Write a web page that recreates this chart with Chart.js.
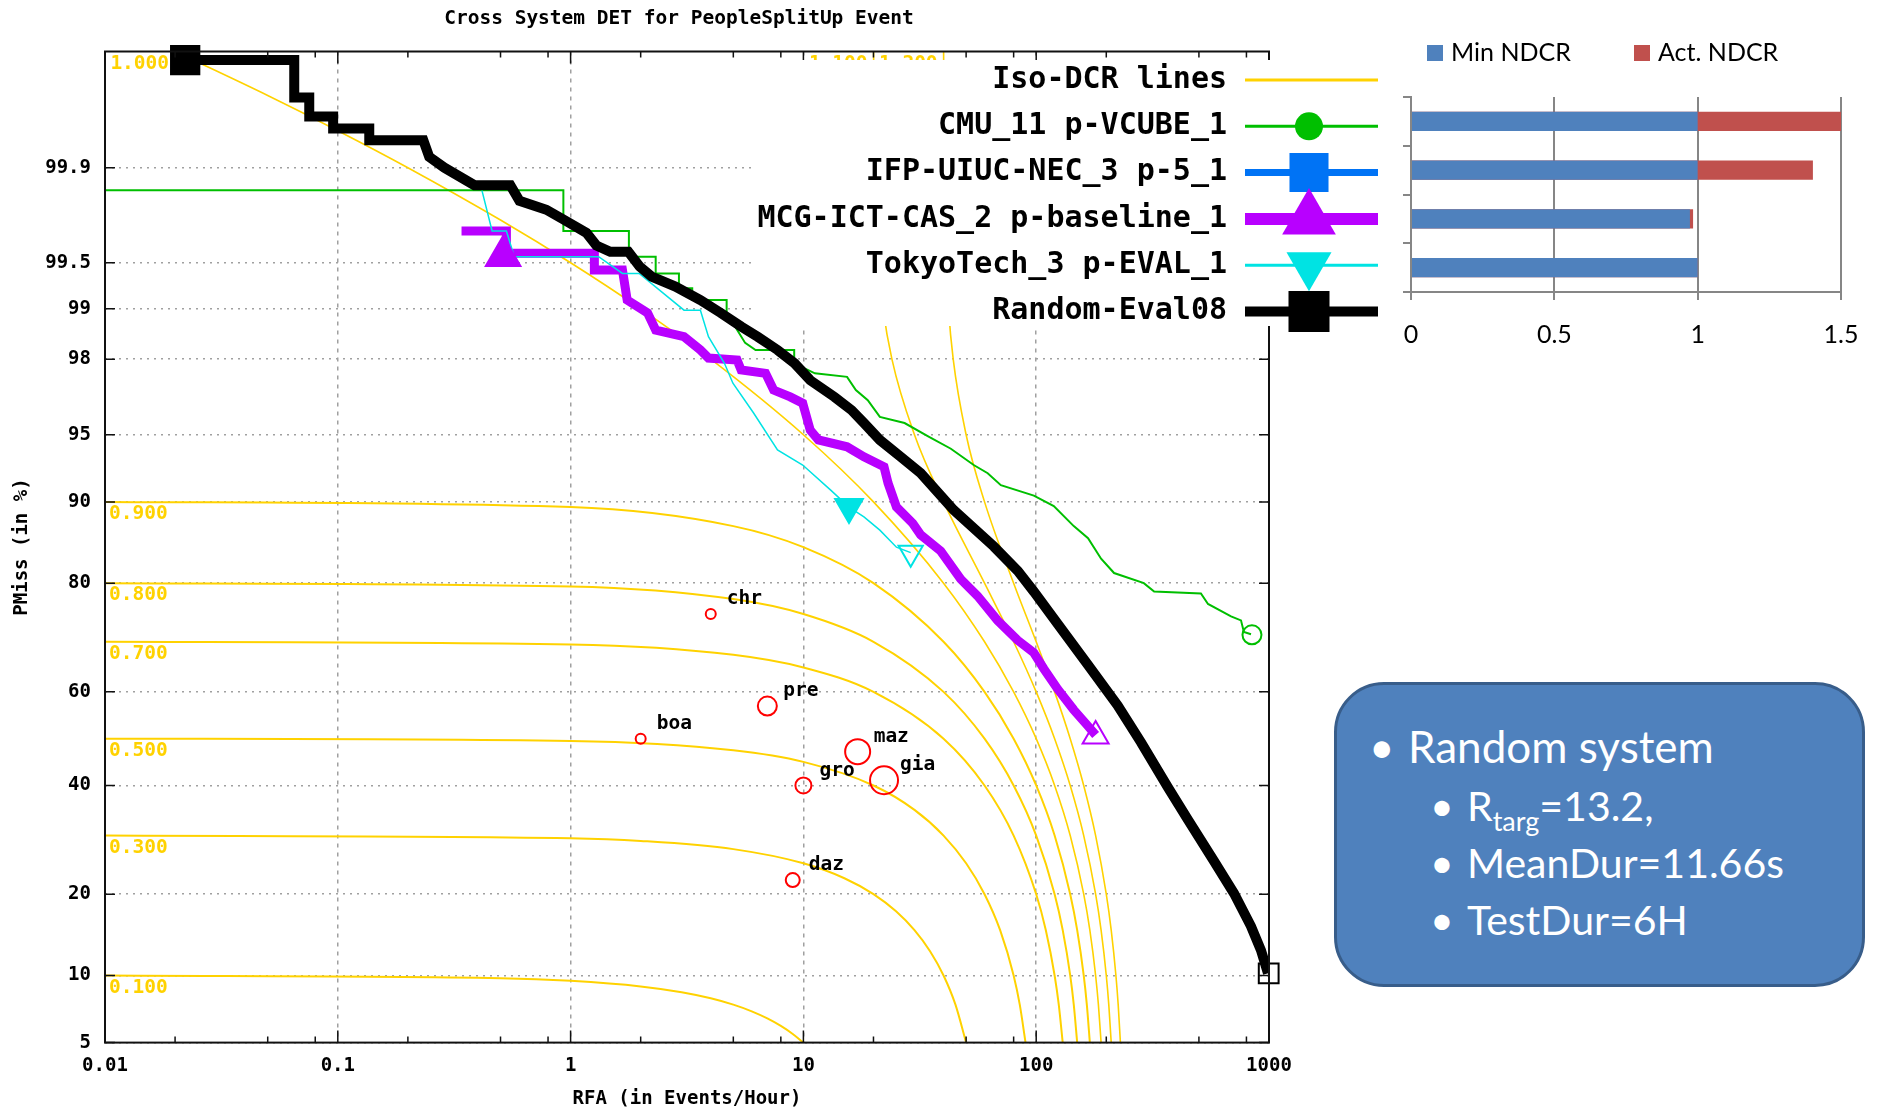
<!DOCTYPE html>
<html>
<head>
<meta charset="utf-8">
<script src="https://cdn.jsdelivr.net/npm/chart.js@4.4.1/dist/chart.umd.min.js"></script>
<style>
  html, body { margin: 0; padding: 0; background: #fff; }
  body { width: 1877px; height: 1110px; position: relative; overflow: hidden; }
  #det { position: absolute; left: 0; top: 0; }
  #ndcr { position: absolute; left: 1395px; top: 0; }
  #note { position: absolute; left: 1334px; top: 682px; width: 531px; height: 305px; box-sizing: border-box;
          background: #4f81bd; border: 3px solid #385d8a; border-radius: 50px; }
  .ln { position: absolute; color: #fff; font-family: Lato, sans-serif; white-space: nowrap; line-height: 1.2; }
  .l1 { font-size: 44px; }
  .l2 { font-size: 41px; }
  .sub { font-size: 27px; vertical-align: -10px; }
</style>
</head>
<body>
<canvas id="det" width="1395" height="1110"></canvas>
<canvas id="ndcr" width="482" height="360"></canvas>
<div id="note"></div>
<div class="ln l1" style="left:1369px; top:720px">&bull;</div>
<div class="ln l1" style="left:1408px; top:720px">Random system</div>
<div class="ln l2" style="left:1430px; top:781px">&bull;</div>
<div class="ln l2" style="left:1467px; top:781px">R<span class="sub">targ</span>=13.2,</div>
<div class="ln l2" style="left:1430px; top:838px">&bull;</div>
<div class="ln l2" style="left:1467px; top:838px">MeanDur=11.66s</div>
<div class="ln l2" style="left:1430px; top:895px">&bull;</div>
<div class="ln l2" style="left:1467px; top:895px">TestDur=6H</div>
<script>
// ---- DET data (RFA in events/hour, PMiss in %) ----
var titleText = 'Cross System DET for PeopleSplitUp Event';
var systems = ['CMU_11 p-VCUBE_1', 'IFP-UIUC-NEC_3 p-5_1', 'MCG-ICT-CAS_2 p-baseline_1', 'TokyoTech_3 p-EVAL_1', 'Random-Eval08'];

var xTicks = [0.01, 0.1, 1, 10, 100, 1000];
var xTickLabels = ['0.01', '0.1', '1', '10', '100', '1000'];
var xMinorTicks = [0.02, 0.05, 0.08, 0.2, 0.5, 0.8, 2, 5, 8, 20, 50, 80, 200, 500, 800];
var yTicks = [5, 10, 20, 40, 60, 80, 90, 95, 98, 99, 99.5, 99.9];
var yTickLabels = ['5', '10', '20', '40', '60', '80', '90', '95', '98', '99', '99.5', '99.9'];

var cmuRfa = [0.01, 0.931, 0.931, 1.78, 1.78, 2.32, 2.32, 2.92, 2.92, 3.33, 3.33, 4.68, 4.68, 5.62, 6.23, 9.13, 9.13, 11.2, 15.4, 16.8, 18.9, 21.3, 27.2, 34.5, 43.0, 53.9, 61.9, 70.5, 97.7, 119, 145, 167, 190, 216, 290, 321, 510, 547, 687, 758, 780, 837];
var cmuPmiss = [99.85, 99.85, 99.70, 99.70, 99.545, 99.545, 99.41, 99.41, 99.26, 99.26, 99.12, 99.12, 98.94, 98.39, 98.23, 98.23, 97.89, 97.60, 97.49, 97.04, 96.65, 95.92, 95.62, 94.89, 94.17, 93.07, 92.46, 91.50, 90.58, 89.6, 87.5, 86.1, 83.5, 81.5, 80.0, 78.7, 78.4, 76.7, 74.6, 73.9, 71.8, 71.4];

var mcgRfa = [0.340, 0.530, 0.530, 1.265, 1.265, 1.67, 1.75, 2.14, 2.32, 3.07, 3.61, 3.91, 5.19, 5.40, 6.88, 7.45, 8.78, 9.93, 10.7, 11.6, 15.4, 18.2, 22.2, 23.1, 25.1, 29.5, 31.9, 38.9, 47.4, 56.0, 68.2, 83.2, 97.7, 108, 124, 145, 167, 180];
var mcgPmiss = [99.70, 99.70, 99.57, 99.57, 99.44, 99.44, 99.12, 98.94, 98.65, 98.52, 98.23, 98.03, 97.98, 97.70, 97.60, 97.04, 96.78, 96.53, 95.25, 94.70, 94.29, 93.64, 92.94, 91.67, 89.5, 87.8, 86.5, 84.5, 80.6, 78.0, 73.9, 70.3, 67.9, 64.7, 60.5, 56.2, 52.7, 50.8];

var tokyoRfa = [0.416, 0.460, 0.530, 0.573, 1.32, 1.67, 1.97, 3.07, 3.61, 3.91, 4.58, 4.98, 6.11, 7.74, 9.93, 13.1, 15.7, 18.2, 21.3, 25.1, 28.9];
var tokyoPmiss = [99.85, 99.70, 99.70, 99.545, 99.545, 99.41, 99.41, 98.98, 98.98, 98.52, 97.89, 97.28, 96.10, 94.09, 93.07, 91.07, 89.5, 88.5, 87.05, 85.0, 84.3];

var randomRfa = [0.0221, 0.065, 0.065, 0.0754, 0.0754, 0.0955, 0.0955, 0.1365, 0.1365, 0.233, 0.247, 0.287, 0.386, 0.551, 0.603, 0.787, 0.94, 1.17, 1.29, 1.48, 1.77, 1.98, 2.23, 2.82, 3.61, 4.41, 5.42, 6.36, 7.74, 9.16, 10.7, 13.6, 16.1, 18.2, 21.3, 26.2, 31.9, 44.2, 65.7, 83.4, 97.7, 124, 167, 224, 282, 368, 449, 580, 708, 837, 924, 990];
var randomPmiss = [99.988, 99.988, 99.974, 99.974, 99.962, 99.962, 99.952, 99.952, 99.94, 99.94, 99.918, 99.90, 99.863, 99.863, 99.82, 99.79, 99.75, 99.69, 99.62, 99.58, 99.58, 99.47, 99.38, 99.28, 99.12, 98.94, 98.71, 98.52, 98.23, 97.89, 97.38, 96.78, 96.23, 95.62, 94.70, 93.64, 92.46, 89.2, 85.1, 81.8, 78.7, 73.2, 65.5, 57.1, 49.2, 39.6, 33.0, 25.4, 20.1, 15.5, 12.6, 10.2];

// actual decision (filled) and end (open) points per system
var cmuMarkRfa = [0.00781, 845];
var cmuMarkPmiss = [99.853, 71.3];
var ifpMarkRfa = [0.00788];
var ifpMarkPmiss = [99.9936];
var mcgMarkRfa = [0.513, 180];
var mcgMarkPmiss = [99.55, 50.6];
var tokyoMarkRfa = [15.7, 28.9];
var tokyoMarkPmiss = [89.5, 84.3];
var randomMarkRfa = [0.0221, 997];
var randomMarkPmiss = [99.988, 10.2];

var eventNames = ['chr', 'pre', 'boa', 'maz', 'gro', 'gia', 'daz', '', ''];
var eventRfa = [4.0, 7.0, 2.0, 17.1, 10.0, 22.2, 9.0, 2.0, 9.16];
var eventPmiss = [75.0, 57.0, 50.0, 47.2, 40.0, 41.1, 22.2, 99.9936, 99.9936];

var isoLabels = ['0.100', '0.300', '0.500', '0.700', '0.800', '0.900', '1.000', '1.100', '1.200'];
var isoRfa = [
  [0.01, 0.5, 1, 2, 3, 4, 5, 6, 7, 8, 9, 10],
  [0.01, 1, 2, 5, 10, 15, 20, 25, 30, 35, 40, 45, 50],
  [0.01, 1, 5, 10, 20, 30, 40, 50, 60, 70, 80, 85, 90],
  [0.01, 1, 5, 10, 20, 40, 60, 80, 100, 110, 120, 125, 130],
  [0.01, 1, 5, 10, 20, 40, 60, 80, 100, 120, 130, 140, 145, 150],
  [0.01, 1, 5, 10, 20, 40, 60, 80, 100, 120, 140, 150, 160, 165, 170],
  [0.02, 0.05, 0.1, 0.2, 0.5, 1, 2, 4, 10, 20, 40, 60, 80, 100, 120, 140, 160, 170, 180, 185, 190],
  [20.02, 20.2, 21, 22, 24, 30, 40, 60, 80, 100, 120, 140, 160, 180, 190, 200, 205, 210],
  [40.02, 40.2, 41, 42, 44, 50, 60, 80, 100, 120, 140, 160, 180, 200, 210, 220, 225, 230]
];
var isoPmiss = [
  [10, 9.75, 9.5, 9, 8.5, 8, 7.5, 7, 6.5, 6, 5.5, 5],
  [30, 29.5, 29, 27.5, 25, 22.5, 20, 17.5, 15, 12.5, 10, 7.5, 5],
  [50, 49.5, 47.5, 45, 40, 35, 30, 25, 20, 15, 10, 7.5, 5],
  [70, 69.5, 67.5, 65, 60, 50, 40, 30, 20, 15, 10, 7.5, 5],
  [80, 79.5, 77.5, 75, 70, 60, 50, 40, 30, 20, 15, 10, 7.5, 5],
  [90, 89.5, 87.5, 85, 80, 70, 60, 50, 40, 30, 20, 15, 10, 7.5, 5],
  [99.99, 99.975, 99.95, 99.9, 99.75, 99.5, 99, 98, 95, 90, 80, 70, 60, 50, 40, 30, 20, 15, 10, 7.5, 5],
  [99.99, 99.9, 99.5, 99, 98, 95, 90, 80, 70, 60, 50, 40, 30, 20, 15, 10, 7.5, 5],
  [99.99, 99.9, 99.5, 99, 98, 95, 90, 80, 70, 60, 50, 40, 30, 20, 15, 10, 7.5, 5]
];

// ---- NDCR bar data ----
var ndcrSystems = ['CMU_11 p-VCUBE_1', 'IFP-UIUC-NEC_3 p-5_1', 'MCG-ICT-CAS_2 p-baseline_1', 'TokyoTech_3 p-EVAL_1'];
var minNdcr = [1.0, 1.0, 0.973, 1.0];
var actNdcr = [1.509, 1.402, 0.984, 1.0];
var ndcrTicks = [0, 0.5, 1, 1.5];
var ndcrTickLabels = ['0', '0.5', '1', '1.5'];

var MONO = '"DejaVu Sans Mono", monospace';
var YELLOW = '#ffd200';
var GREEN = '#00bf00', BLUE = '#0073f5', PURPLE = '#b800ff', CYAN = '#00e3e3', BLACK = '#000000', RED = '#ff0000';
var GRID = '#a0a0a0';
var NONE = 'rgba(0,0,0,0)';

// inverse normal CDF (Acklam)
function probit(p) {
    var a = [-39.69683028665376, 220.9460984245205, -275.9285104469687, 138.3577518672690, -30.66479806614716, 2.506628277459239];
    var b = [-54.47609879822406, 161.5858368580409, -155.6989798598866, 66.80131188771972, -13.28068155288572];
    var c = [-0.007784894002430293, -0.3223964580411365, -2.400758277161838, -2.549732539343734, 4.374664141464968, 2.938163982698783];
    var d = [0.007784695709041462, 0.3224671290700398, 2.445134137142996, 3.754408661907416];
    var q, r;
    if (p < 0.02425) {
        q = Math.sqrt(-2 * Math.log(p));
        return (((((c[0]*q+c[1])*q+c[2])*q+c[3])*q+c[4])*q+c[5]) / ((((d[0]*q+d[1])*q+d[2])*q+d[3])*q+1);
    }
    if (p > 1 - 0.02425) {
        q = Math.sqrt(-2 * Math.log(1 - p));
        return -(((((c[0]*q+c[1])*q+c[2])*q+c[3])*q+c[4])*q+c[5]) / ((((d[0]*q+d[1])*q+d[2])*q+d[3])*q+1);
    }
    q = p - 0.5; r = q * q;
    return (((((a[0]*r+a[1])*r+a[2])*r+a[3])*r+a[4])*r+a[5])*q / (((((b[0]*r+b[1])*r+b[2])*r+b[3])*r+b[4])*r+1);
}
function normCdf(z) {
    var t = 1 / (1 + 0.2316419 * Math.abs(z));
    var p = 0.3989423 * Math.exp(-z * z / 2) * t * (0.3193815 + t * (-0.3565638 + t * (1.781478 + t * (-1.821256 + t * 1.330274))));
    return z > 0 ? 1 - p : p;
}

// normal deviate (probit) axis for PMiss
class ProbitScale extends Chart.LinearScale {
    determineDataLimits() { this.min = this.options.min; this.max = this.options.max; }
    buildTicks() { return yTicks.map(function (v) { return { value: v }; }); }
    configure() {
        super.configure();
        this._z0 = probit(this.min / 100);
        this._z1 = probit(this.max / 100);
    }
    getPixelForValue(v) {
        return this.getPixelForDecimal((probit(v / 100) - this._z0) / (this._z1 - this._z0));
    }
    getValueForPixel(px) {
        var dec = this.getDecimalForPixel(px);
        return 100 * normCdf(this._z0 + dec * (this._z1 - this._z0));
    }
}
ProbitScale.id = 'probit';
ProbitScale.defaults = {};
Chart.register(ProbitScale);

function pts(xs, ys) { return xs.map(function (x, i) { return { x: x, y: ys[i] }; }); }

var datasets = [];
isoRfa.forEach(function (xs, i) {
    datasets.push({ data: pts(xs, isoPmiss[i]), borderColor: YELLOW, borderWidth: i < 6 ? 2 : 1.6,
        pointRadius: 0, cubicInterpolationMode: 'monotone', order: 10 });
});
datasets.push({ data: pts(cmuRfa, cmuPmiss), borderColor: GREEN, borderWidth: 2, pointRadius: 0, order: 8 });
datasets.push({ data: pts(mcgRfa, mcgPmiss), borderColor: PURPLE, borderWidth: 9, pointRadius: 0, order: 7 });
datasets.push({ data: pts(tokyoRfa, tokyoPmiss), borderColor: CYAN, borderWidth: 1.5, pointRadius: 0, order: 6 });
datasets.push({ data: pts(randomRfa, randomPmiss), borderColor: BLACK, borderWidth: 10, pointRadius: 0, order: 5 });

var eventIndex = datasets.length;
datasets.push({ data: pts(eventRfa, eventPmiss), showLine: false, clip: false, order: 9,
    pointStyle: 'circle', pointRadius: [5, 9.5, 5, 12.5, 8, 14, 7, 5, 10],
    pointBorderColor: RED, pointBackgroundColor: NONE, pointBorderWidth: 2 });

function markers(xs, ys, color, style, radii, rot) {
    return { data: pts(xs, ys), showLine: false, clip: false, order: 0,
        pointStyle: style, pointRadius: radii, pointRotation: rot || 0,
        pointBorderColor: color, pointBorderWidth: 2,
        pointBackgroundColor: [color, NONE] };
}
datasets.push(markers(cmuMarkRfa, cmuMarkPmiss, GREEN, 'circle', [7, 9.5]));
datasets.push(markers(ifpMarkRfa, ifpMarkPmiss, BLUE, 'rect', [13.5]));
datasets.push(markers(mcgMarkRfa, mcgMarkPmiss, PURPLE, 'triangle', [20, 15]));
datasets.push(markers(tokyoMarkRfa, tokyoMarkPmiss, CYAN, 'triangle', [16, 14], 180));
datasets.push(markers(randomMarkRfa, randomMarkPmiss, BLACK, 'rect', [20, 14]));

var legendItems = [
    { label: 'Iso-DCR lines', color: YELLOW, width: 3 },
    { label: systems[0], color: GREEN, width: 3, style: 'circle', r: 14 },
    { label: systems[1], color: BLUE, width: 7, style: 'rect', r: 27.6 },
    { label: systems[2], color: PURPLE, width: 12, style: 'triangle', r: 31 },
    { label: systems[3], color: CYAN, width: 3, style: 'triangle', r: 26, rot: 180 },
    { label: systems[4], color: BLACK, width: 10, style: 'rect', r: 29 }
];

var detDecor = {
    id: 'detDecor',
    afterDatasetsDraw: function (chart) {
        var ctx = chart.ctx, a = chart.chartArea, x = chart.scales.x, y = chart.scales.y;
        ctx.save();
        ctx.strokeStyle = '#111';
        ctx.lineWidth = 2;
        ctx.strokeRect(a.left, a.top, a.right - a.left, a.bottom - a.top);
        ctx.lineWidth = 1.5;
        ctx.beginPath();
        yTicks.forEach(function (v) {
            var py = y.getPixelForValue(v);
            ctx.moveTo(a.left, py); ctx.lineTo(a.left + 10, py);
            ctx.moveTo(a.right, py); ctx.lineTo(a.right - 10, py);
        });
        function xt(v, len) {
            var px = x.getPixelForValue(v);
            ctx.moveTo(px, a.bottom); ctx.lineTo(px, a.bottom - len);
            ctx.moveTo(px, a.top); ctx.lineTo(px, a.top + len);
        }
        xTicks.forEach(function (v) { xt(v, 12); });
        xMinorTicks.forEach(function (v) { xt(v, 6); });
        ctx.stroke();

        ctx.font = 'bold 19.5px ' + MONO;
        ctx.textBaseline = 'middle';
        ctx.fillStyle = YELLOW;
        isoRfa.forEach(function (xs, i) {
            if (xs[0] <= 0.01) {
                ctx.textAlign = 'left';
                ctx.fillText(isoLabels[i], a.left + 4, y.getPixelForValue(isoPmiss[i][0]) + 12);
            } else {
                ctx.textAlign = 'right';
                ctx.fillText(isoLabels[i], x.getPixelForValue(xs[0]) - 6, a.top + 12);
            }
        });

        ctx.fillStyle = '#000';
        ctx.textAlign = 'left';
        chart.getDatasetMeta(eventIndex).data.forEach(function (el, i) {
            if (eventNames[i]) ctx.fillText(eventNames[i], el.x + 16, el.y - 15);
        });

        ctx.textAlign = 'center';
        ctx.fillText(titleText, 679, 19);
        ctx.restore();
    }
};

var detLegend = {
    id: 'detLegend',
    afterDraw: function (chart) {
        var ctx = chart.ctx;
        ctx.save();
        ctx.fillStyle = '#fff';
        ctx.fillRect(753, 60, 632, 266);
        ctx.font = 'bold 30px ' + MONO;
        ctx.textAlign = 'right';
        ctx.textBaseline = 'middle';
        legendItems.forEach(function (it, i) {
            var ly = 80 + i * 46.3;
            ctx.fillStyle = '#000';
            ctx.fillText(it.label, 1227, ly);
            ctx.strokeStyle = it.color;
            ctx.lineWidth = it.width;
            ctx.beginPath();
            ctx.moveTo(1245, ly); ctx.lineTo(1378, ly);
            ctx.stroke();
            if (it.style) {
                ctx.fillStyle = it.color;
                Chart.helpers.drawPoint(ctx, { pointStyle: it.style, radius: it.r, rotation: it.rot || 0, borderWidth: 0 }, 1309, ly);
            }
        });
        ctx.restore();
    }
};

var axisFont = { family: MONO, size: 19, weight: 'bold' };

new Chart(document.getElementById('det'), {
    type: 'line',
    data: { datasets: datasets },
    options: {
        responsive: false,
        animation: false,
        events: [],
        layout: { padding: { left: 0, right: 126, top: 51.5, bottom: 0 } },
        elements: { line: { borderCapStyle: 'butt', borderJoinStyle: 'miter' } },
        plugins: { legend: { display: false }, tooltip: { enabled: false } },
        scales: {
            x: {
                type: 'logarithmic',
                position: 'bottom',
                min: 0.01,
                max: 1000,
                afterBuildTicks: function (s) { s.ticks = xTicks.map(function (v) { return { value: v }; }); },
                afterFit: function (s) { s.height = 67.4; },
                ticks: { callback: function (v, i) { return xTickLabels[i]; }, autoSkip: false, maxRotation: 0,
                    padding: 12, color: '#000', font: axisFont },
                grid: { color: GRID, lineWidth: 1.5, drawTicks: false },
                border: { display: false, dash: [4, 5] },
                title: { display: true, text: 'RFA (in Events/Hour)', color: '#000', font: axisFont, padding: { top: 0, bottom: 0 } }
            },
            y: {
                type: 'probit',
                position: 'left',
                min: 5,
                max: 99.99,
                afterFit: function (s) { s.width = 105; },
                ticks: { callback: function (v, i) { return yTickLabels[i]; }, autoSkip: false,
                    padding: 14, color: '#000', font: axisFont },
                grid: { color: GRID, lineWidth: 1.5, drawTicks: false },
                border: { display: false, dash: [2, 5] },
                title: { display: true, text: 'PMiss (in %)', color: '#000', font: axisFont, padding: { top: 10.6, bottom: 0 } }
            }
        }
    },
    plugins: [detDecor, detLegend]
});

// ---- NDCR bars ----
var ndcrLegend = {
    id: 'ndcrLegend',
    afterDraw: function (chart) {
        var ctx = chart.ctx, xs = [32, 239];
        ctx.save();
        ctx.font = '25px Lato';
        ctx.textBaseline = 'middle';
        chart.data.datasets.forEach(function (ds, i) {
            ctx.fillStyle = ds.backgroundColor;
            ctx.fillRect(xs[i], 45, 16, 16);
            ctx.fillStyle = '#000';
            ctx.fillText(ds.label, xs[i] + 24, 53);
        });
        ctx.restore();
    }
};

new Chart(document.getElementById('ndcr'), {
    type: 'bar',
    data: {
        labels: ndcrSystems,
        datasets: [
            { label: 'Min NDCR', data: minNdcr, backgroundColor: '#4f81bd', grouped: false, order: 0,
              barPercentage: 0.39, categoryPercentage: 1 },
            { label: 'Act. NDCR', data: actNdcr, backgroundColor: '#c0504d', grouped: false, order: 1,
              barPercentage: 0.39, categoryPercentage: 1 }
        ]
    },
    options: {
        indexAxis: 'y',
        responsive: false,
        animation: false,
        events: [],
        layout: { padding: { left: 8, right: 36, top: 97, bottom: 0 } },
        plugins: { legend: { display: false }, tooltip: { enabled: false } },
        scales: {
            x: {
                min: 0,
                max: 1.5,
                afterBuildTicks: function (s) { s.ticks = ndcrTicks.map(function (v) { return { value: v }; }); },
                afterFit: function (s) { s.height = 68; },
                ticks: { callback: function (v, i) { return ndcrTickLabels[i]; }, autoSkip: false, maxRotation: 0,
                    padding: 0, color: '#000', font: { family: 'Lato', size: 25, lineHeight: 2.8 } },
                grid: { color: '#868686', lineWidth: 2, tickLength: 8 },
                border: { color: '#868686', width: 2 }
            },
            y: {
                afterFit: function (s) { s.width = 8; },
                ticks: { display: false },
                grid: { offset: true, drawOnChartArea: false, tickLength: 8, color: '#868686', lineWidth: 2 },
                border: { color: '#868686', width: 2 }
            }
        }
    },
    plugins: [ndcrLegend]
});
</script>
</body>
</html>
